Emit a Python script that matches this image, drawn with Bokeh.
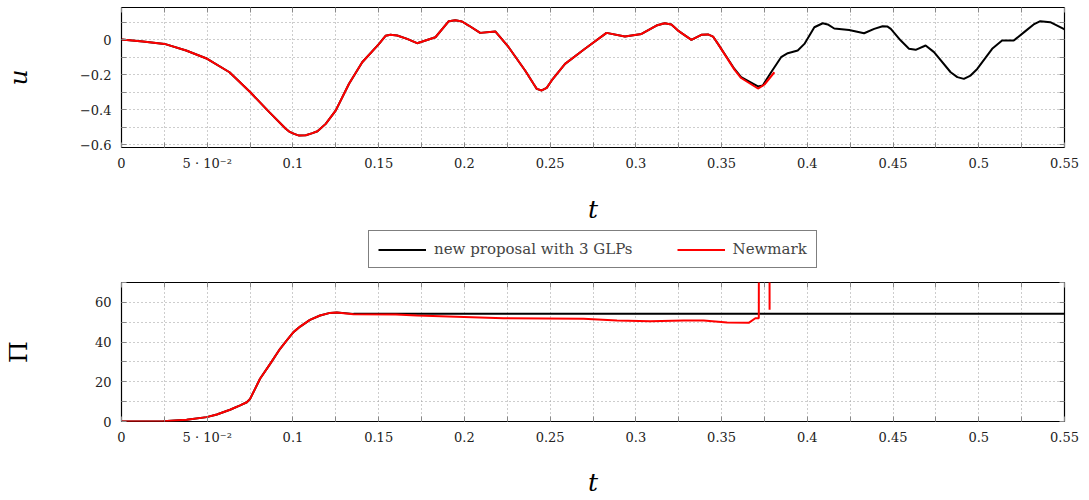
from bokeh.plotting import figure
from bokeh.models import Range1d, FixedTicker, Legend, LegendItem, LinearAxis
from bokeh.layouts import column
from bokeh.embed import file_html
from bokeh.resources import INLINE

# ---------------- data ----------------
# top panel: displacement u(t)
t_new = [0, 0.0125, 0.0251, 0.0377, 0.05, 0.063, 0.075, 0.0862, 0.0958, 0.0978, 0.1007,
         0.1036, 0.1075, 0.1114, 0.1143, 0.1191, 0.1249, 0.1327, 0.1404, 0.1502, 0.154,
         0.1569, 0.1608, 0.1666, 0.1724, 0.1831, 0.1909, 0.1947, 0.1986, 0.2025, 0.2092,
         0.218, 0.2258, 0.2354, 0.2403, 0.2422, 0.2451, 0.248, 0.2509, 0.2587, 0.2703,
         0.2829, 0.2936, 0.3033, 0.312, 0.3168, 0.3207, 0.3246, 0.3324, 0.3382, 0.3421,
         0.345, 0.3479, 0.3575, 0.3614, 0.3712, 0.374, 0.3789, 0.3847, 0.3886, 0.3944,
         0.3983, 0.4041, 0.409, 0.4119, 0.4157, 0.4244, 0.4331, 0.439, 0.4439, 0.4468,
         0.4487, 0.4545, 0.4593, 0.4632, 0.469, 0.4739, 0.4836, 0.4875, 0.4913, 0.4952,
         0.4991, 0.5078, 0.5136, 0.5204, 0.5272, 0.532, 0.5359, 0.5417, 0.5495, 0.55]
u_new = [0, -0.011, -0.025, -0.063, -0.11, -0.187, -0.30, -0.415, -0.51, -0.526, -0.539,
         -0.549, -0.547, -0.535, -0.524, -0.482, -0.406, -0.253, -0.13, -0.025, 0.021,
         0.027, 0.023, 0.004, -0.021, 0.013, 0.105, 0.11, 0.103, 0.08, 0.038,
         0.046, -0.044, -0.177, -0.253, -0.282, -0.291, -0.276, -0.234, -0.139, -0.053,
         0.038, 0.017, 0.032, 0.08, 0.093, 0.086, 0.051, -0.002, 0.027, 0.029,
         0.017, -0.025, -0.168, -0.215, -0.268, -0.263, -0.187, -0.101, -0.078, -0.063,
         -0.025, 0.07, 0.093, 0.086, 0.063, 0.055, 0.036, 0.061, 0.076, 0.074,
         0.061, -0.006, -0.053, -0.059, -0.034, -0.072, -0.187, -0.215, -0.225, -0.206,
         -0.168, -0.053, -0.006, -0.006, 0.048, 0.086, 0.105, 0.099, 0.061, 0.058]

t_nm = [0, 0.0125, 0.0251, 0.0377, 0.05, 0.063, 0.075, 0.0862, 0.0958, 0.0978, 0.1007,
        0.1036, 0.1075, 0.1114, 0.1143, 0.1191, 0.1249, 0.1327, 0.1404, 0.1502, 0.154,
        0.1569, 0.1608, 0.1666, 0.1724, 0.1831, 0.1909, 0.1947, 0.1986, 0.2025, 0.2092,
        0.218, 0.2258, 0.2354, 0.2403, 0.2422, 0.2451, 0.248, 0.2509, 0.2587, 0.2703,
        0.2829, 0.2936, 0.3033, 0.312, 0.3168, 0.3207, 0.3246, 0.3324, 0.3382, 0.3421,
        0.345, 0.3479, 0.3575, 0.3614, 0.3712, 0.375, 0.3808]
u_nm = [0, -0.011, -0.025, -0.063, -0.11, -0.187, -0.30, -0.415, -0.51, -0.526, -0.539,
        -0.549, -0.547, -0.535, -0.524, -0.482, -0.406, -0.253, -0.13, -0.025, 0.021,
        0.027, 0.023, 0.004, -0.021, 0.013, 0.105, 0.11, 0.103, 0.08, 0.038,
        0.046, -0.044, -0.177, -0.253, -0.282, -0.291, -0.276, -0.234, -0.139, -0.053,
        0.038, 0.017, 0.032, 0.08, 0.093, 0.086, 0.051, -0.002, 0.027, 0.029,
        0.017, -0.025, -0.172, -0.22, -0.28, -0.257, -0.187]

# bottom panel: energy Pi(t)
tp_new = [0, 0.0244, 0.038, 0.0497, 0.0556, 0.0633, 0.0692, 0.0731, 0.075, 0.0808, 0.0867,
          0.0925, 0.0964, 0.1003, 0.1042, 0.1099, 0.1158, 0.1216, 0.1256, 0.1353, 0.55]
pi_new = [0, 0.15, 0.85, 2.2, 3.5, 5.9, 8.1, 9.7, 11.4, 21.5, 29.0,
          36.6, 40.8, 45.0, 47.8, 51.2, 53.4, 54.7, 54.9, 54.2, 54.2]

tp_nm = [0, 0.0244, 0.038, 0.0497, 0.0556, 0.0633, 0.0692, 0.0731, 0.075, 0.0808, 0.0867,
         0.0925, 0.0964, 0.1003, 0.1042, 0.1099, 0.1158, 0.1216, 0.1256, 0.1353, 0.16,
         0.1723, 0.2228, 0.2695, 0.289, 0.3084, 0.3279, 0.3395, 0.3532, 0.3658, 0.3697,
         0.3717, 0.3722, 0.3774, 0.378]
pi_nm = [0, 0.15, 0.85, 2.2, 3.5, 5.9, 8.1, 9.7, 11.4, 21.5, 29.0,
         36.6, 40.8, 45.0, 47.8, 51.2, 53.4, 54.7, 54.9, 54.0, 53.9,
         53.4, 52.0, 51.7, 50.9, 50.5, 50.9, 50.9, 49.8, 49.7, 52.0,
         52.0, 400.0, 400.0, 56.3]

x_ticks = [0, 0.025, 0.05, 0.075, 0.1, 0.125, 0.15, 0.175, 0.2, 0.225, 0.25, 0.275,
           0.3, 0.325, 0.35, 0.375, 0.4, 0.425, 0.45, 0.475, 0.5, 0.525, 0.55]
x_tick_labels = ["0", "", "5 · 10⁻²", "", "0.1", "", "0.15", "", "0.2", "", "0.25", "",
                 "0.3", "", "0.35", "", "0.4", "", "0.45", "", "0.5", "", "0.55"]

u_ticks = [-0.6, -0.5, -0.4, -0.3, -0.2, -0.1, 0, 0.1]
u_tick_labels = ["−0.6", "", "−0.4", "", "−0.2", "", "0", ""]
pi_ticks = [0, 10, 20, 30, 40, 50, 60, 70]
pi_tick_labels = ["0", "", "20", "", "40", "", "60", ""]

series_names = ["new proposal with 3 GLPs", "Newmark"]

FONT = "DejaVu Serif"
TICK_SIZE = "13px"
BLACK = "#000000"
RED = "#ff0000"


def style(p, yticks, ylabels, xlabel, ylabel, ylabel_style, y_standoff, x_standoff):
    p.outline_line_color = "black"
    p.outline_line_width = 1.2
    p.background_fill_color = "white"
    p.border_fill_color = "white"
    xt = FixedTicker(ticks=x_ticks)
    yt = FixedTicker(ticks=yticks)
    ax = p.xaxis[0]
    ay = p.yaxis[0]
    ax.ticker = xt
    ay.ticker = yt
    ax.major_label_overrides = {k: v for k, v in zip(x_ticks, x_tick_labels)}
    ay.major_label_overrides = {k: v for k, v in zip(yticks, ylabels)}
    for a in (ax, ay):
        a.axis_line_color = None
        a.major_tick_in = 5
        a.major_tick_out = 0
        a.minor_tick_in = 0
        a.minor_tick_out = 0
        a.major_tick_line_color = "#888888"
        a.major_label_text_font = FONT
        a.major_label_text_font_size = TICK_SIZE
        a.major_label_text_color = "#222222"
        a.axis_label_text_font = FONT
        a.axis_label_text_font_size = "25px"
        a.axis_label_text_color = "black"
    ax.major_label_standoff = 8
    ay.major_label_standoff = 10
    ax.axis_label = xlabel
    ax.axis_label_text_font_style = "italic"
    ax.axis_label_standoff = x_standoff
    ay.axis_label = ylabel
    ay.axis_label_text_font_style = ylabel_style
    ay.axis_label_standoff = y_standoff
    # tick marks on top and right sides (no labels)
    top = LinearAxis(ticker=xt, major_label_overrides={k: "" for k in x_ticks},
                     major_label_standoff=0, axis_line_color=None, major_tick_in=5,
                     major_tick_out=0, minor_tick_in=0, minor_tick_out=0,
                     major_tick_line_color="#888888", major_label_text_font_size="1px")
    right = LinearAxis(ticker=yt, major_label_overrides={k: "" for k in yticks},
                       major_label_standoff=0, axis_line_color=None, major_tick_in=5,
                       major_tick_out=0, minor_tick_in=0, minor_tick_out=0,
                       major_tick_line_color="#888888", major_label_text_font_size="1px")
    p.add_layout(top, "above")
    p.add_layout(right, "right")
    for g in (p.xgrid[0], p.ygrid[0]):
        g.grid_line_color = "#9a9a9a"
        g.grid_line_dash = "1 3"
        g.grid_line_width = 1
    p.xgrid[0].ticker = xt
    p.ygrid[0].ticker = yt


# ---------------- top figure ----------------
p1 = figure(width=1089, height=226, output_backend="svg", toolbar_location=None,
            x_range=Range1d(0, 0.55), y_range=Range1d(-0.617, 0.183),
            min_border_left=118, min_border_right=25, min_border_top=7, min_border_bottom=79)
style(p1, u_ticks, u_tick_labels, "t", "u", "italic", 44, 21)
p1.line(t_new, u_new, line_color=BLACK, line_width=2)
p1.line(t_nm, u_nm, line_color=RED, line_width=2)

# ---------------- legend strip (series drawn outside its visible range) ----------------
pl = figure(width=1089, height=54, output_backend="svg", toolbar_location=None,
            x_range=Range1d(10, 11), y_range=Range1d(10, 11),
            x_axis_location=None, y_axis_location=None, min_border=0)
pl.outline_line_color = None
pl.grid.visible = False
lb = pl.line(tp_new, pi_new, line_color=BLACK, line_width=2)
lr = pl.line(tp_nm, pi_nm, line_color=RED, line_width=2)
legend = Legend(items=[LegendItem(label=series_names[0], renderers=[lb]),
                       LegendItem(label=series_names[1], renderers=[lr])],
                orientation="horizontal", location=(247, 12), margin=0, padding=9,
                spacing=44, glyph_width=48, glyph_height=17, label_standoff=8,
                label_text_font=FONT, label_text_font_size="15px",
                border_line_color="black", border_line_width=1,
                background_fill_alpha=1.0)
pl.add_layout(legend, "center")

# ---------------- bottom figure ----------------
p2 = figure(width=1089, height=220, output_backend="svg", toolbar_location=None,
            x_range=Range1d(0, 0.55), y_range=Range1d(0, 70),
            min_border_left=121, min_border_right=25, min_border_top=2, min_border_bottom=79)
style(p2, pi_ticks, pi_tick_labels, "t", "Π", "normal", 59, 20)
p2.line(tp_new, pi_new, line_color=BLACK, line_width=2)
p2.line(tp_nm, pi_nm, line_color=RED, line_width=2)

layout = column(p1, pl, p2, spacing=0)
open("out.html", "w").write(file_html(layout, INLINE))
